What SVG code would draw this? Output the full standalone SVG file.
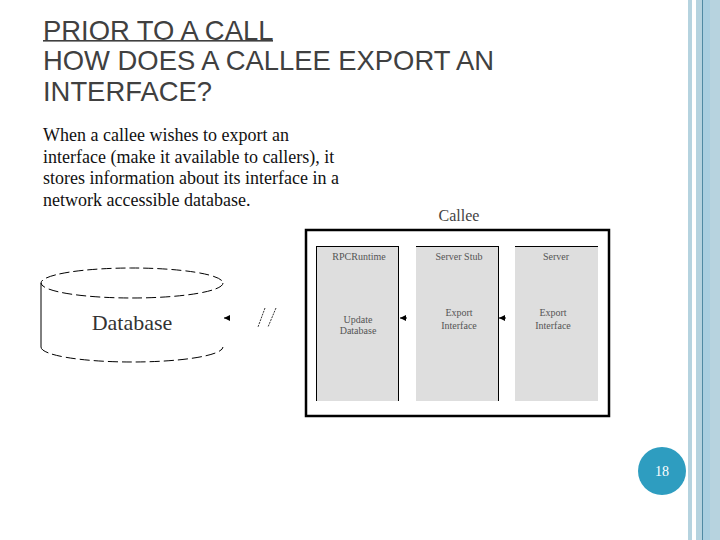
<svg xmlns="http://www.w3.org/2000/svg" width="720" height="540" viewBox="0 0 720 540">
<defs>
<style>
.title{font-family:"Liberation Sans",Arial,sans-serif;font-size:27.4px;fill:#404040}
.para{font-family:"Liberation Serif","Times New Roman",serif;font-size:18px;fill:#111}
.small{font-family:"Liberation Serif","Times New Roman",serif;font-size:10px;fill:#555;text-anchor:middle}
.lane{fill:#dedede}
.edge{stroke:#000;stroke-width:1}
</style>
<marker id="arr" markerWidth="6" markerHeight="6" refX="6" refY="3" orient="auto" markerUnits="userSpaceOnUse">
<path d="M6,3 L0,0 L0,6 Z" fill="#000"/>
</marker>
</defs>
<rect width="720" height="540" fill="#fff"/>
<g id="stripes">
<rect x="688" y="0" width="4" height="540" fill="#b5d3df"/>
<rect x="696" y="0" width="6" height="540" fill="#b5d3df"/>
<rect x="702" y="0" width="1" height="540" fill="#4f8aa3"/>
<rect x="703" y="0" width="7" height="540" fill="#a9cfe0"/>
<rect x="710" y="0" width="10" height="540" fill="#b7d3df"/>
</g>
<g id="title">
<text class="title" x="43" y="40">PRIOR TO A CALL</text>
<rect x="43" y="40" width="230" height="1.6" fill="#404040"/>
<text class="title" x="43" y="70">HOW DOES A CALLEE EXPORT AN</text>
<text class="title" x="43" y="101">INTERFACE?</text>
</g>
<g id="paragraph">
<text class="para" x="43" y="141">When a callee wishes to export an</text>
<text class="para" x="43" y="163">interface (make it available to callers), it</text>
<text class="para" x="43" y="184">stores information about its interface in a</text>
<text class="para" x="43" y="206">network accessible database.</text>
</g>
<g id="database">
<ellipse cx="132" cy="283" rx="91" ry="15" fill="none" stroke="#000" stroke-width="1" stroke-dasharray="10,4"/>
<line x1="41" y1="283" x2="41" y2="347" stroke="#000" stroke-width="1"/>
<path d="M41,347 A91,15 0 0 0 223,347" fill="none" stroke="#000" stroke-width="1" stroke-dasharray="10,4"/>
<text x="132" y="330" font-family="Liberation Serif,'Times New Roman',serif" font-size="22" fill="#333" text-anchor="middle">Database</text>
</g>
<g id="callee">
<text x="459" y="221" font-family="Liberation Serif,'Times New Roman',serif" font-size="16" fill="#444" text-anchor="middle">Callee</text>
<rect x="306" y="230" width="303" height="186" fill="none" stroke="#000" stroke-width="2.5"/>
</g>
<g id="rpcruntime">
<rect class="lane" x="316" y="246" width="83" height="155"/>
<line class="edge" x1="316" y1="246.5" x2="399" y2="246.5"/>
<line class="edge" x1="316.5" y1="246" x2="316.5" y2="401"/>
<line class="edge" x1="398.5" y1="246" x2="398.5" y2="401"/>
<text class="small" x="359" y="260">RPCRuntime</text>
<text class="small" x="358" y="323">Update</text>
<text class="small" x="358" y="334">Database</text>
</g>
<g id="serverstub">
<rect class="lane" x="416" y="246" width="83" height="155"/>
<line class="edge" x1="416" y1="246.5" x2="499" y2="246.5"/>
<line class="edge" x1="498.5" y1="246" x2="498.5" y2="401"/>
<text class="small" x="459" y="260">Server Stub</text>
<text class="small" x="459" y="316">Export</text>
<text class="small" x="459" y="329">Interface</text>
</g>
<g id="server">
<rect class="lane" x="515" y="246" width="83" height="155"/>
<line class="edge" x1="515" y1="246.5" x2="598" y2="246.5"/>
<text class="small" x="556" y="260">Server</text>
<text class="small" x="553" y="316">Export</text>
<text class="small" x="553" y="329">Interface</text>
</g>
<g id="connectors">
<path d="M407,318 L400,318" fill="none" stroke="#000" stroke-width="1" marker-end="url(#arr)"/>
<path d="M506,318 L499,318" fill="none" stroke="#000" stroke-width="1" marker-end="url(#arr)"/>
<path d="M230,318 L224,318" fill="none" stroke="#000" stroke-width="1" marker-end="url(#arr)"/>
<line x1="265" y1="308" x2="258" y2="327" stroke="#000" stroke-width="0.8" stroke-dasharray="2,1"/>
<line x1="276" y1="308" x2="268" y2="327" stroke="#000" stroke-width="0.8" stroke-dasharray="2,1"/>
</g>
<g id="pagenum">
<circle cx="662" cy="471" r="24" fill="#2e9dc0"/>
<text x="662" y="476" font-family="Liberation Serif,'Times New Roman',serif" font-size="14" fill="#fff" text-anchor="middle">18</text>
</g>
</svg>
